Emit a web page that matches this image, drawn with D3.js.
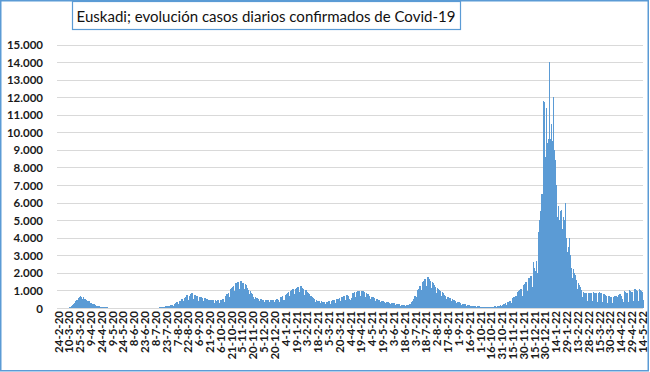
<!DOCTYPE html>
<html>
<head>
<meta charset="utf-8">
<script src="https://cdn.jsdelivr.net/npm/d3@7"></script>
<style>
  html, body { margin: 0; padding: 0; background: #fff; }
  svg { display: block; font-family: Lato, "Open Sans", sans-serif; }
</style>
</head>
<body>
<script>
// daily confirmed cases, Euskadi, starting 24-2-20
const startDate = new Date(2020, 1, 24);

const cases2020 = [
  // feb
  0,0,0,0,1,1,
  // mar
  1,2,3,5,6,8,6, 12,25,40,55,80,110,90, 150,200,260,320,380,430,400, 480,560,620,680,640,600,520, 560,620,540,
  // apr
  520,480,450,400,330,380,360, 300,280,250,230,190,200,180, 150,140,120,110,80,90,85, 70,80,60,45,30,50,45, 40,70,
  // may
  35,25,15,20,18,15,14,12,8,8, 10,12,9,8,7,6,5,6,8,9, 7,6,5,4,6,8,7,5,4,4,5,
  // jun
  6,5,4,3,5,6,7,4,3,4, 5,6,5,3,4,6,7,8,6,5, 7,8,6,5,9,10,8,6,7,9,
  // jul
  10,12,9,8,14,16,18,15,20,22, 18,25,30,35,40,45,50,45,55,70, 80,95,110,100,90,120,140,160,150,170,180,
  // aug
  140,120,220,260,300,320,280, 250,230,380,420,480,520,450, 380,350,560,620,660,720,600, 480,450,700,780,820,860,700, 520,480,760,
  // sep
  720,700,680,650, 420,400,640,620,600,580,560, 380,360,560,540,520,500,480, 330,320,480,470,450,440,430, 300,290,440,430,420,
  // oct
  430,440, 320,300,460,470,480,500,520, 380,360,600,700,780,820,860, 650,620,1000,1100,1150,1200,1250, 950,900,1350,1400,1450,1500,1480, 1100,
  // nov
  1000, 1500,1520,1480,1450,1400,1100,1000, 1350,1300,1250,1150,1050,800,750, 950,850,800,700,650,500,480, 620,580,550,520,500,400,380, 520,
  // dec
  500,480,470,460, 350,330,480,470,460,450,440, 330,320,460,470,480,460,450, 340,330,480,500,520,450,250, 300,350,600,650,700,450
];

const cases2021 = [
  // jan
  400, 450,420,750,800,650,850,900, 700,650,950,1000,1050,1100,1080, 800,750,1100,1150,1200,1220,1180, 900,850,1250,1200,1150,1100,1050, 750,700,
  // feb
  1000,950,900,850,780, 550,500,700,650,600,550,500, 380,350,480,450,420,400,380, 280,260,380,360,340,330,320, 240,230,
  // mar
  350,340,360,370,380, 260,250,400,420,430,440,450, 320,300,480,500,520,540,560, 400,380,600,620,640,660,680, 480,460,720,740,760,
  // apr
  700,500, 450,420,550,800,850,880,900, 650,620,900,950,960,970,980, 700,680,980,990,960,940,920, 650,620,850,800,780,750,700,
  // may
  500,480,650,620,600,580,560, 400,380,520,500,480,460,440, 320,300,420,400,380,370,360, 260,250,340,330,320,310,300, 220,210,290,
  // jun
  280,270,260,250, 180,170,240,230,220,210,200, 140,130,190,180,170,165,160, 110,105,160,170,180,200,230, 200,210,350,420,500,
  // jul
  600,700, 650,620,900,1000,1100,1200,1250, 1100,1050,1450,1500,1550,1600,1650, 1300,1250,1700,1780,1700,1650,1550, 1200,1150,1500,1450,1350,1300,1200, 900,
  // aug
  850, 1150,1100,1050,1000,950,700,650, 900,850,800,750,700,500,480, 650,620,600,580,550,400,380, 500,480,450,420,400,280,260, 360,340,
  // sep
  320,300,280, 190,180,250,240,230,220,200, 140,130,180,170,160,150,140, 100,95,130,120,115,110,105, 75,70,100,95,90,85,
  // oct
  80, 60,55,85,80,80,75,75, 55,50,80,75,70,70,75, 55,50,80,85,90,95,100, 70,65,110,120,130,140,150, 110,100,
  // nov
  150,200,220,240,260, 180,170,320,350,380,400,420, 300,280,550,600,620,650,680, 480,450,900,950,1000,1050,1100, 750,700,1300,1250,
  // dec
  1350,1400,1500, 1000,950,1600,1700,1200,1800,1850, 1300,1200,2600,2300,2200,2100,2700, 1900,2000,3900,4300,5000,5500,6000, 6500,5000,11800,11700,11500,8600,11400
];

const cases2022 = [
  // jan
  9200,9400,9600,14000,9400,9600,10500, 9300,9500,12000,9000,8600,8400,7000, 5000,5200,5800,4800,5000,5500,5600, 4500,4200,5200,5000,4800,6000,4000, 3200,3000,3500,
  // feb
  4000,3000,2500,2300, 1700,1600,2200,2000,1900,1800,1600, 1100,1000,1400,1300,1200,1100,1000, 600,500,900,850,880,870,850, 400,350,860,
  // mar
  880,870,860,820, 380,330,900,880,850,830,800, 350,320,880,900,870,840,800, 340,300,800,780,750,700,650, 300,280,700,680,650,620,
  // apr
  600, 300,280,650,680,700,680,650, 320,300,750,780,800,700,500, 350,330,700,950,900,880,850, 380,360,1000,980,950,920,900, 400,
  // may
  380, 1100,1080,1050,1000,950,420,400, 1100,1050,1000,950,900,450
];

const tickLabels = ["24-2-20","10-3-20","25-3-20","9-4-20","24-4-20","9-5-20","24-5-20","8-6-20","23-6-20","8-7-20",
  "23-7-20","7-8-20","22-8-20","6-9-20","21-9-20","6-10-20","21-10-20","5-11-20","20-11-20","5-12-20",
  "20-12-20","4-1-21","19-1-21","3-2-21","18-2-21","5-3-21","20-3-21","4-4-21","19-4-21","4-5-21",
  "19-5-21","3-6-21","18-6-21","3-7-21","18-7-21","2-8-21","17-8-21","1-9-21","16-9-21","1-10-21",
  "16-10-21","31-10-21","15-11-21","30-11-21","15-12-21","30-12-21","14-1-22","29-1-22","13-2-22","28-2-22",
  "15-3-22","30-3-22","14-4-22","29-4-22","14-5-22"];
const yTicks = [0,1000,2000,3000,4000,5000,6000,7000,8000,9000,10000,11000,12000,13000,14000,15000];
const title = "Euskadi; evolución casos diarios confirmados de Covid-19";

const values = cases2020.concat(cases2021, cases2022);
const data = values.map((v, i) => ({i: i, date: d3.timeDay.offset(startDate, i), v: v}));

const W = 650, H = 372;
const mLeft = 58, mRight = 643, mTop = 44.5, mBottom = 308;
const blue = "#5B9BD5";

const svg = d3.select("body").append("svg").attr("width", W).attr("height", H);

svg.append("rect").attr("x", 0.75).attr("y", 0.75).attr("width", W - 2.5).attr("height", H - 2)
  .attr("fill", "#fff").attr("stroke", blue).attr("stroke-width", 1.5);

const xScale = d3.scaleBand().domain(data.map(d => d.i)).range([mLeft, mRight]).padding(0);
const yScale = d3.scaleLinear().domain([0, 15000]).range([mBottom, mTop]);

// gridlines
svg.append("g").selectAll("line").data(yTicks).enter().append("line")
  .attr("x1", mLeft - 1).attr("x2", mRight)
  .attr("y1", d => Math.round(yScale(d)) + 0.5).attr("y2", d => Math.round(yScale(d)) + 0.5)
  .attr("stroke", "#d9d9d9").attr("stroke-width", 1);

// bars
svg.append("g").attr("shape-rendering", "crispEdges")
  .selectAll("rect").data(data).enter().append("rect")
  .attr("x", d => xScale(d.i))
  .attr("width", xScale.bandwidth() + 0.5)
  .attr("y", d => yScale(d.v))
  .attr("height", d => mBottom - yScale(d.v))
  .attr("fill", blue);

// y axis
const yAxis = d3.axisLeft(yScale).tickValues(yTicks).tickSize(0).tickPadding(0)
  .tickFormat(d => d3.format(",")(d).replace(/,/g, "."));
const gy = svg.append("g").attr("transform", "translate(43,0)").call(yAxis);
gy.select(".domain").remove();
gy.selectAll("text").attr("font-family", "Lato, sans-serif").attr("font-weight", "bold")
  .attr("font-size", 11.5).attr("fill", "#1a1a1a").attr("dy", "0.35em");

// x axis
const xTicks = tickLabels.map((t, k) => k * 15);
const xAxis = d3.axisBottom(xScale).tickValues(xTicks).tickSize(0)
  .tickFormat(i => tickLabels[i / 15]);
const gx = svg.append("g").attr("transform", "translate(0," + mBottom + ")").call(xAxis);
gx.select(".domain").remove();
gx.selectAll("text")
  .attr("font-family", "Lato, sans-serif").attr("font-weight", "bold").attr("font-size", 11.5)
  .attr("fill", "#1a1a1a")
  .attr("transform", "rotate(-90)")
  .attr("text-anchor", "end")
  .attr("x", -3).attr("y", 0).attr("dy", "0.35em");

// title box
const tb = svg.append("g");
tb.append("rect").attr("x", 72.5).attr("y", 1.5).attr("width", 388).attr("height", 28)
  .attr("fill", "#fff").attr("stroke", blue).attr("stroke-width", 1.2);
const tt = tb.append("text").attr("x", 266).attr("y", 22).attr("text-anchor", "middle")
  .attr("font-family", "Lato, sans-serif").attr("font-size", 16).attr("fill", "#111").text(title);
const tl = tt.node().getComputedTextLength();
tt.attr("font-size", 16 * 379 / tl);
</script>
</body>
</html>
